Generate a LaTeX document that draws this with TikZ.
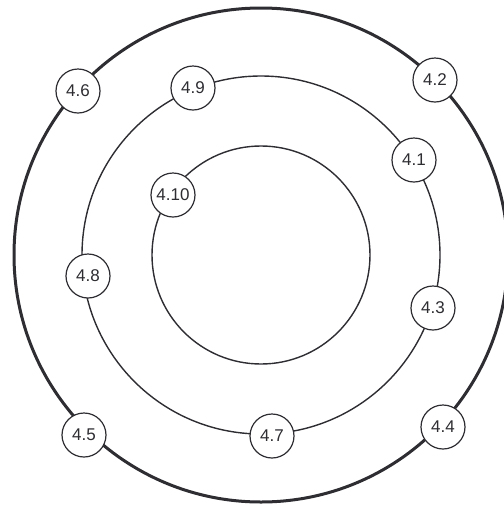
\documentclass[tikz,border=0pt]{standalone}
\usepackage{fontspec}
\setmainfont{Liberation Sans}
\definecolor{ink}{RGB}{45,45,50}
\begin{document}
\begin{tikzpicture}[x=1pt,y=-1pt,
  ring/.style={draw=ink,line width=1.4pt},
  thickring/.style={draw=ink,line width=3pt},
  tag/.style={circle,draw=ink,fill=white,line width=1.2pt,minimum size=44pt,inner sep=0pt,
    font=\fontsize{17}{17}\selectfont,text=ink}]
\useasboundingbox (0,0) rectangle (504,507);
\coordinate (c) at (261,255);
\draw[thickring] (c) circle[radius=247];
\draw[ring] (c) circle[radius=179];
\draw[ring] (c) circle[radius=109];
\node[tag] (n46) at (78,91) {4.6};
\node[tag] (n49) at (193,88) {4.9};
\node[tag] (n42) at (435,80) {4.2};
\node[tag] (n41) at (414,160) {4.1};
\node[tag] (n410) at (173,195) {4.10};
\node[tag] (n48) at (88,276) {4.8};
\node[tag] (n43) at (433,308) {4.3};
\node[tag] (n45) at (84,435) {4.5};
\node[tag] (n47) at (272,436) {4.7};
\node[tag] (n44) at (443,427) {4.4};
\end{tikzpicture}
\end{document}
